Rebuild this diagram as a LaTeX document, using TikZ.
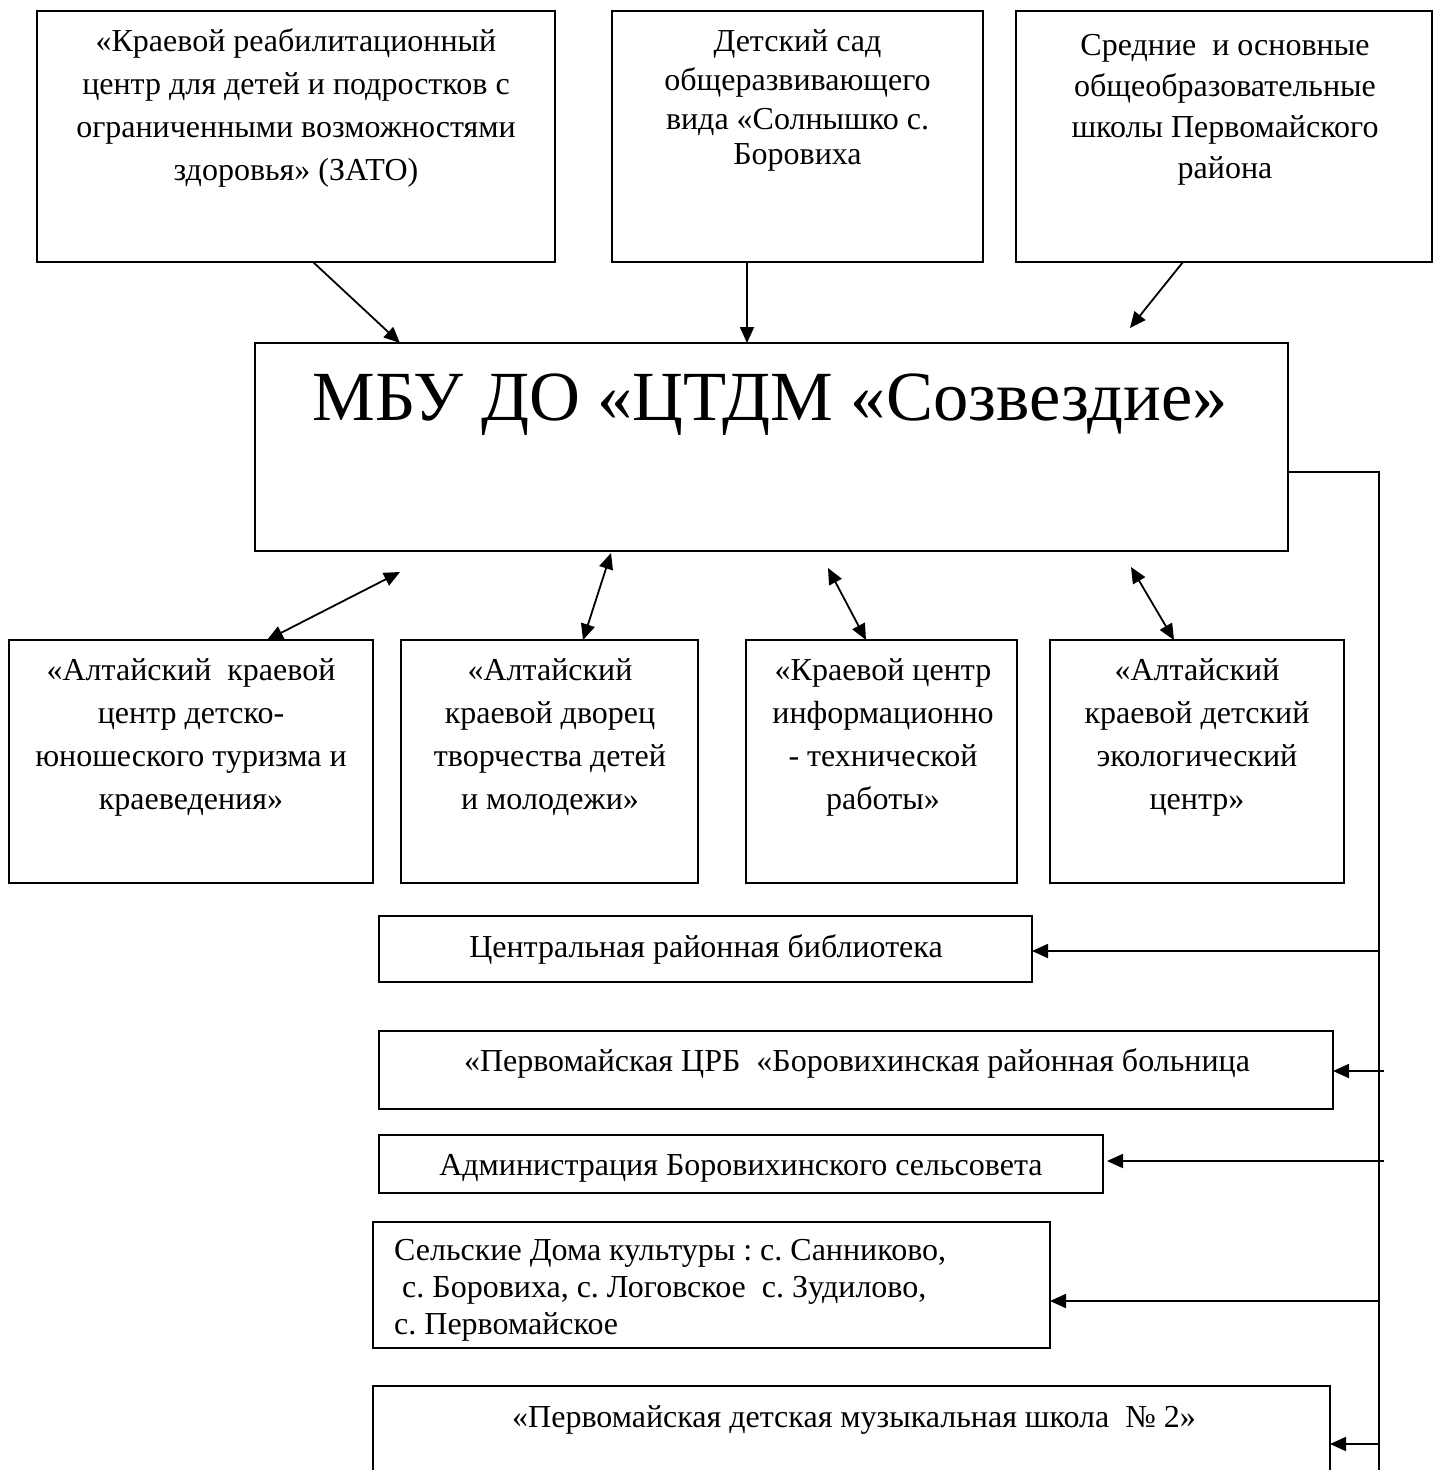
\documentclass[tikz,border=0pt]{standalone}
\usepackage{fontspec}
\setmainfont{Liberation Serif}
\usetikzlibrary{arrows.meta}
\frenchspacing
\begin{document}
\begin{tikzpicture}[x=1pt,y=-1pt,
  box/.style={draw, line width=1.8pt, anchor=north west, inner sep=0pt, outer sep=0pt},
  txt/.style={anchor=north, inner sep=0pt, align=center},
  one/.style={anchor=base, inner sep=0pt, font=\fontsize{32}{38}\selectfont},
  tip/.style={-{Triangle[length=16pt,width=14pt]}},
  arr/.style={line width=1.8pt, tip},
  darr/.style={line width=1.8pt, {Triangle[length=16pt,width=14pt]}-{Triangle[length=16pt,width=14pt]}},
  ln/.style={line width=1.8pt}]
\useasboundingbox (0,0) rectangle (1442,1470);
\clip (0,0) rectangle (1442,1470);
\fill[white] (0,0) rectangle (1442,1470);

% top row
\node[box, minimum width=518pt, minimum height=251pt] (b1) at (37,11) {};
\node[box, minimum width=371pt, minimum height=251pt] (b2) at (612,11) {};
\node[box, minimum width=416pt, minimum height=251pt] (b3) at (1016,11) {};
\node[txt, font=\fontsize{32}{43}\selectfont] (t1) at (296,26) {\rule{0pt}{25pt}«Краевой реабилитационный\\центр для детей и подростков с\\ограниченными возможностями\\здоровья» (ЗАТО)};
\node[txt, font=\fontsize{32}{39}\selectfont] (t2) at (797.5,26) {\rule{0pt}{25pt}Детский сад\\общеразвивающего\\вида «Солнышко с.\\[-4pt]Боровиха};
\node[txt, font=\fontsize{32}{41}\selectfont] (t3) at (1225,30) {\rule{0pt}{25pt}Средние\ \ и основные\\общеобразовательные\\школы Первомайского\\района};

% main
\node[box, minimum width=1033pt, minimum height=208pt] (m) at (255,343) {};
\node[anchor=base, inner sep=0pt, font=\fontsize{70.5}{80}\selectfont] (mt) at (770.5,420) {МБУ ДО «ЦТДМ «Созвездие»};

\coordinate (a1) at (400,343);
\coordinate (a2) at (747,343);
\coordinate (a3) at (1130,328);
\draw[arr] (b1.south -| 313,0) -- (a1);
\draw[arr] (b2.south -| 747,0) -- (a2);
\draw[arr] (b3.south -| 1183,0) -- (a3);

% second row
\node[box, minimum width=364pt, minimum height=243pt] (r1) at (9,640) {};
\node[box, minimum width=297pt, minimum height=243pt] (r2) at (401,640) {};
\node[box, minimum width=271pt, minimum height=243pt] (r3) at (746,640) {};
\node[box, minimum width=294pt, minimum height=243pt] (r4) at (1050,640) {};
\node[txt, font=\fontsize{32}{43}\selectfont] (s1) at (191,655) {\rule{0pt}{25pt}«Алтайский\ \ краевой\\центр детско-\\юношеского туризма и\\краеведения»};
\node[txt, font=\fontsize{32}{43}\selectfont] (s2) at (550,655) {\rule{0pt}{25pt}«Алтайский\\краевой дворец\\творчества детей\\и молодежи»};
\node[txt, font=\fontsize{32}{43}\selectfont] (s3) at (883,655) {\rule{0pt}{25pt}«Краевой центр\\информационно\\- технической\\работы»};
\node[txt, font=\fontsize{32}{43}\selectfont] (s4) at (1197,655) {\rule{0pt}{25pt}«Алтайский\\краевой детский\\экологический\\центр»};

\coordinate (c1) at (400,572);
\coordinate (c2) at (611,553);
\coordinate (c3) at (828,568);
\coordinate (c4) at (1131,567);
\draw[darr] (r1.north -| 267,0) -- (c1);
\draw[darr] (r2.north -| 583,0) -- (c2);
\draw[darr] (r3.north -| 866,0) -- (c3);
\draw[darr] (r4.north -| 1174,0) -- (c4);

% right bus
\coordinate (busTop) at (1379,472);
\coordinate (busBot) at (1379,1470);
\draw[ln] (m.east |- busTop) -- (busTop) -- (busBot);

% lower boxes
\node[box, minimum width=653pt, minimum height=66pt] (lib) at (379,916) {};
\node[one] (libt) at (706,957) {Центральная районная библиотека};
\node[box, minimum width=954pt, minimum height=78pt] (crb) at (379,1031) {};
\node[one] (crbt) at (857,1071) {«Первомайская ЦРБ\ \ «Боровихинская районная больница};
\node[box, minimum width=724pt, minimum height=58pt] (adm) at (379,1135) {};
\node[one] (admt) at (741,1175) {Администрация Боровихинского сельсовета};
\node[box, minimum width=677pt, minimum height=126pt] (dk) at (373,1222) {};
\begin{scope}
\clip (373,1222) rectangle (1050,1346);
\node[anchor=north west, inner sep=0pt, align=left, font=\fontsize{32}{37}\selectfont] (dkt) at (394,1235) {\rule{0pt}{25pt}Сельские Дома культуры : с. Санниково,\\\ с. Боровиха, с. Логовское\ \ с. Зудилово,\\с. Первомайское};
\end{scope}
\node[box, minimum width=957pt, minimum height=140pt] (mus) at (373,1386) {};
\node[one] (must) at (854,1427) {«Первомайская детская музыкальная школа\ \ № 2»};

\coordinate (e1) at (1379,951);
\coordinate (e2) at (1384,1071);
\coordinate (e3) at (1384,1161);
\coordinate (e4) at (1379,1301);
\coordinate (e5) at (1379,1444);
\draw[arr] (e1) -- (lib.east |- e1);
\draw[arr] (e2) -- (crb.east |- e2);
\draw[arr] (e3) -- ([xshift=4pt]adm.east |- e3);
\draw[arr] (e4) -- (dk.east |- e4);
\draw[arr] (e5) -- (mus.east |- e5);
\end{tikzpicture}
\end{document}
